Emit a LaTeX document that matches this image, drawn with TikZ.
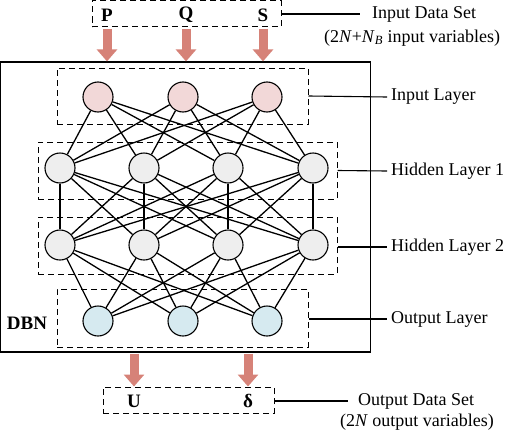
\documentclass[tikz,border=0pt]{standalone}
\usepackage{fontspec}
\setmainfont{Liberation Serif}
\usetikzlibrary{arrows.meta,backgrounds}
\definecolor{arr}{RGB}{214,130,120}
\definecolor{inf}{RGB}{242,216,216}
\definecolor{hid}{RGB}{238,238,238}
\definecolor{outf}{RGB}{214,234,240}
\begin{document}
\begin{tikzpicture}[x=1pt,y=-1pt,
  neuron/.style={circle, draw, line width=1.1pt, minimum size=30pt, inner sep=0pt},
  dbox/.style={draw, dash pattern=on 6pt off 4pt, line width=1pt, inner sep=0pt},
  conn/.style={line width=1.3pt},
  bigarrow/.style={draw=arr, line width=9pt, -{Triangle[width=20pt,length=12pt]}},
  lab/.style={font=\fontsize{18}{21}\selectfont, inner sep=2pt},
  var/.style={font=\fontsize{19}{21}\selectfont\bfseries, inner sep=1pt},
  lead/.style={line width=1.1pt}]
\useasboundingbox (0,0) rectangle (505,431);

% main DBN frame
\node[draw, line width=1.2pt, minimum width=370pt, minimum height=290pt, inner sep=0pt] (dbnframe) at (185.7,207) {};
\node[var] (dbn) at (27,323) {DBN};

% input data set
\node[dbox, minimum width=189pt, minimum height=26pt] (inset) at (186.5,13.5) {};
\node[var] (P) at (107,15) {P};
\node[var] (Q) at (186,15) {Q};
\node[var] (S) at (263,15) {S};

% output data set
\node[dbox, minimum width=171pt, minimum height=26pt] (outset) at (188.5,400) {};
\node[var] (U) at (134,401) {U};
\node[var] (D) at (248,401) {δ};

% layer boxes
\node[dbox, minimum width=251pt, minimum height=56pt] (inbox) at (182.5,96) {};
\node[dbox, minimum width=299pt, minimum height=57pt] (h1box) at (187.5,170.5) {};
\node[dbox, minimum width=299pt, minimum height=57pt] (h2box) at (187.5,245.5) {};
\node[dbox, minimum width=251pt, minimum height=58pt] (outbox) at (182.5,318) {};

% neurons
\foreach \i/\x in {1/98,2/183,3/267} {
  \node[neuron, fill=inf] (i\i) at (\x,97) {};
  \node[neuron, fill=outf] (o\i) at (\x,321) {};
}
\foreach \i/\x in {1/60,2/144,3/228,4/313} {
  \node[neuron, fill=hid] (h\i) at (\x,168) {};
  \node[neuron, fill=hid] (g\i) at (\x,245) {};
}

% connections
\begin{scope}[on background layer]
\foreach \a in {1,2,3} \foreach \b in {1,2,3,4} {
  \draw[conn] (i\a) -- (h\b);
  \draw[conn] (o\a) -- (g\b);
}
\foreach \a in {1,2,3,4} \foreach \b in {1,2,3,4} {
  \draw[conn] (h\a) -- (g\b);
}
\end{scope}

% big arrows
\draw[bigarrow] (P |- inset.south) ++(0,1.5) -- (P |- dbnframe.north);
\draw[bigarrow] (Q |- inset.south) ++(0,1.5) -- (Q |- dbnframe.north);
\draw[bigarrow] (S |- inset.south) ++(0,1.5) -- (S |- dbnframe.north);
\draw[bigarrow] (U |- dbnframe.south) ++(0,1) -- (U |- outset.north);
\draw[bigarrow] (D |- dbnframe.south) ++(0,1) -- (D |- outset.north);

% labels
\node[lab, anchor=west] (inlab) at (370,14) {Input Data Set};
\node[lab] (invars) at (412,38) {(2\textit{N}+\textit{N}\textsubscript{\textit{B}} input variables)};
\node[lab, anchor=west] (inlayerlab) at (389,97) {Input Layer};
\node[lab, anchor=west] (h1lab) at (389,171) {Hidden Layer 1};
\node[lab, anchor=west] (h2lab) at (389,247) {Hidden Layer 2};
\node[lab, anchor=west] (outlayerlab) at (389,319) {Output Layer};
\node[lab, anchor=west] (outlab) at (356,401) {Output Data Set};
\node[lab] (outvars) at (417,422) {(2\textit{N} output variables)};

% leader lines
\draw[lead] (inset.east |- inlab) -- ([xshift=-10pt]inlab.west);
\draw[lead] (inbox.east) -- ([xshift=-2pt]inlayerlab.west);
\draw[lead] (h1box.east) -- ([xshift=-2pt]h1lab.west);
\draw[lead] (h2box.east |- h2lab) -- ([xshift=-2pt]h2lab.west);
\draw[lead] (outbox.east |- outlayerlab) -- ([xshift=-2pt]outlayerlab.west);
\draw[lead] (outset.east |- outlab) -- ([xshift=-8pt]outlab.west);
\end{tikzpicture}
\end{document}
